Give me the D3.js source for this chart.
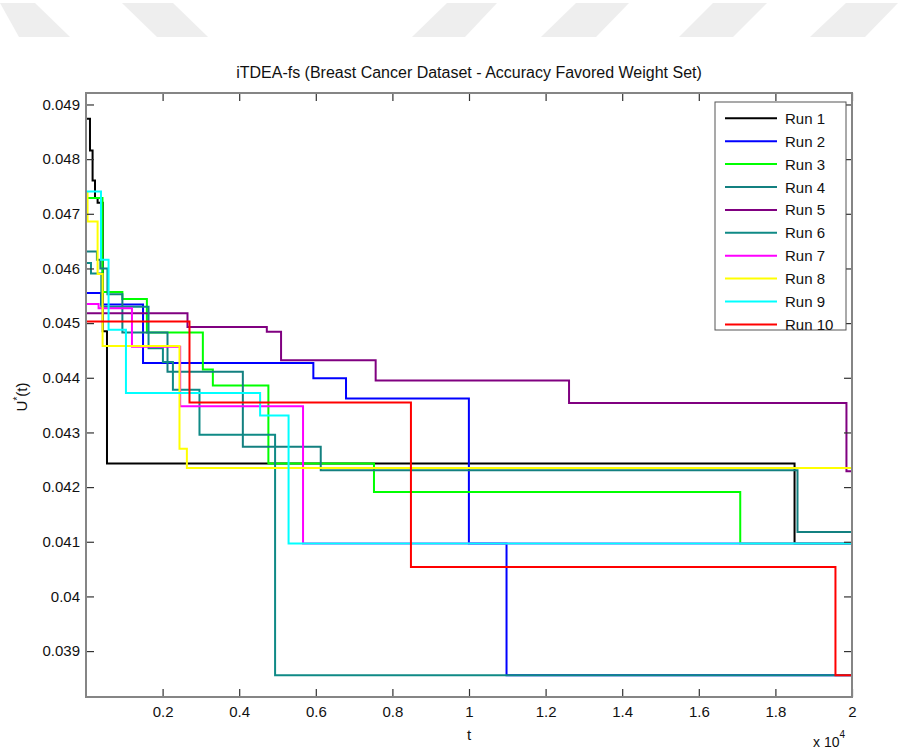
<!DOCTYPE html>
<html><head><meta charset="utf-8">
<script src="https://cdn.jsdelivr.net/npm/d3@7"></script>
<style>
body{margin:0;background:#fff}
svg text{font-family:"Liberation Sans",Arial,sans-serif}
</style>
</head><body>
<svg id="c" width="898" height="753"></svg>
<script>
const titleText = "iTDEA-fs (Breast Cancer Dataset - Accuracy Favored Weight Set)";
const runNames = ["Run 1","Run 2","Run 3","Run 4","Run 5","Run 6","Run 7","Run 8","Run 9","Run 10"];
const runColors = ["#000000","#0000ff","#00ff00","#138080","#800080","#0f8a86","#ff00ff","#ffff00","#00ffff","#ff0000"];
// [t, U*(t)] step points for each run
const run1 = [[0,0.04874],[104,0.04816],[172,0.04761],[235,0.04729],[303,0.04720],[438,0.04485],[548,0.04243],[18500,0.04097]];
const run2 = [[0,0.04555],[391,0.04534],[1489,0.04427],[5936,0.04399],[6789,0.04362],[9997,0.04097],[10980,0.03856]];
const run3 = [[0,0.04729],[430,0.04557],[950,0.04544],[1590,0.04483],[3051,0.04415],[3312,0.04386],[4762,0.04243],[7519,0.04191],[17082,0.04097]];
const run4 = [[0,0.04631],[285,0.04616],[375,0.04600],[560,0.04553],[950,0.04483],[2128,0.04411],[4095,0.04274],[6129,0.04231],[18577,0.04118]];
const run5 = [[0,0.04518],[2650,0.04493],[4721,0.04484],[5093,0.04432],[7563,0.04395],[12612,0.04354],[19855,0.04229]];
const run6 = [[0,0.04610],[130,0.04591],[400,0.04530],[1633,0.04454],[2008,0.04429],[2269,0.04378],[2963,0.04296],[4937,0.03856]];
const run7 = [[0,0.04535],[329,0.04527],[1200,0.04457],[2459,0.04348],[5667,0.04097]];
const run8 = [[0,0.04739],[40,0.04686],[303,0.04590],[433,0.04458],[2441,0.04270],[2634,0.04235]];
const run9 = [[0,0.04741],[391,0.04616],[589,0.04488],[1043,0.04372],[4546,0.04331],[5289,0.04097]];
const run10 = [[0,0.04503],[2702,0.04355],[8484,0.04054],[19568,0.03856]];
const runs = [run1,run2,run3,run4,run5,run6,run7,run8,run9,run10];

const tMax = 20000;
const xTicks = [2000,4000,6000,8000,10000,12000,14000,16000,18000,20000];
const xTickLabels = ["0.2","0.4","0.6","0.8","1","1.2","1.4","1.6","1.8","2"];
const yTicks = [0.039,0.040,0.041,0.042,0.043,0.044,0.045,0.046,0.047,0.048,0.049];
const yTickLabels = ["0.039","0.04","0.041","0.042","0.043","0.044","0.045","0.046","0.047","0.048","0.049"];
const yDomain = [0.03816, 0.04921];

const svg = d3.select("#c");
const L = 86, R = 852, T = 93, B = 697;

// decorative watermark band at top
const wm = [[0,35,19,70],[122,173,157,208],[447,497,412,465],[576,629,541,596],[713,767,679,733],[846,898,810,865]];
svg.selectAll("polygon.wm").data(wm).enter().append("polygon")
  .attr("points", d => `${d[0]},3 ${d[1]},3 ${d[3]},37 ${d[2]},37`)
  .attr("fill", "#eeeeee");

const x = d3.scaleLinear().domain([0, tMax]).range([L, R]);
const y = d3.scaleLinear().domain(yDomain).range([B, T]);

svg.append("defs").append("clipPath").attr("id","clip")
  .append("rect").attr("x",L).attr("y",T).attr("width",R-L).attr("height",B-T);

const line = d3.line().x(d => x(d[0])).y(d => y(d[1])).curve(d3.curveStepAfter);
const g = svg.append("g").attr("clip-path","url(#clip)");
runs.forEach((r, i) => {
  const pts = r.concat([[tMax, r[r.length-1][1]]]);
  g.append("path").attr("d", line(pts)).attr("fill","none")
    .attr("stroke", runColors[i]).attr("stroke-width", 2);
});

// axes
const styleAxis = sel => {
  sel.select(".domain").remove();
  sel.selectAll(".tick line").attr("stroke","#333").attr("stroke-width",1.2);
  sel.selectAll(".tick text").attr("fill","#111").style("font-size","15px");
};
svg.append("g").attr("transform",`translate(0,${B})`)
  .call(d3.axisBottom(x).tickValues(xTicks).tickFormat((d,i)=>xTickLabels[i]).tickSizeInner(-8).tickSizeOuter(0).tickPadding(9))
  .call(styleAxis);
svg.append("g").attr("transform",`translate(0,${T})`)
  .call(d3.axisTop(x).tickValues(xTicks).tickFormat("").tickSizeInner(-8).tickSizeOuter(0))
  .call(styleAxis);
svg.append("g").attr("transform",`translate(${L},0)`)
  .call(d3.axisLeft(y).tickValues(yTicks).tickFormat((d,i)=>yTickLabels[i]).tickSizeInner(-8).tickSizeOuter(0).tickPadding(6))
  .call(styleAxis);
svg.append("g").attr("transform",`translate(${R},0)`)
  .call(d3.axisRight(y).tickValues(yTicks).tickFormat("").tickSizeInner(-8).tickSizeOuter(0))
  .call(styleAxis);

svg.append("rect").attr("x",L).attr("y",T).attr("width",R-L).attr("height",B-T)
  .attr("fill","none").attr("stroke","#858585").attr("stroke-width",2);

// title & labels
svg.append("text").attr("x",(L+R)/2).attr("y",78).attr("text-anchor","middle")
  .style("font-size","16px").attr("fill","#111").text(titleText);
svg.append("text").attr("x",(L+R)/2).attr("y",740).attr("text-anchor","middle")
  .style("font-size","15px").attr("fill","#111").text("t");
const ex = svg.append("text").attr("x",813).attr("y",747).style("font-size","14px").attr("fill","#111");
ex.append("tspan").text("x 10");
ex.append("tspan").attr("dy",-9).style("font-size","10px").text("4");
const yl = svg.append("text").attr("transform","translate(27,397) rotate(-90)")
  .attr("text-anchor","middle").style("font-size","15px").attr("fill","#111");
yl.append("tspan").text("U");
yl.append("tspan").attr("dy",-6).style("font-size","10px").text("*");
yl.append("tspan").attr("dy",6).text("(t)");

// legend
const lg = svg.append("g");
lg.append("rect").attr("x",715).attr("y",102).attr("width",131).attr("height",228)
  .attr("fill","#fff").attr("stroke","#555").attr("stroke-width",1);
runNames.forEach((n,i) => {
  const yy = 118.3 + i*22.9;
  lg.append("line").attr("x1",725).attr("x2",777).attr("y1",yy).attr("y2",yy)
    .attr("stroke",runColors[i]).attr("stroke-width",2);
  lg.append("text").attr("x",785).attr("y",yy+5.5).style("font-size","15px").attr("fill","#111").text(n);
});
</script>
</body></html>
